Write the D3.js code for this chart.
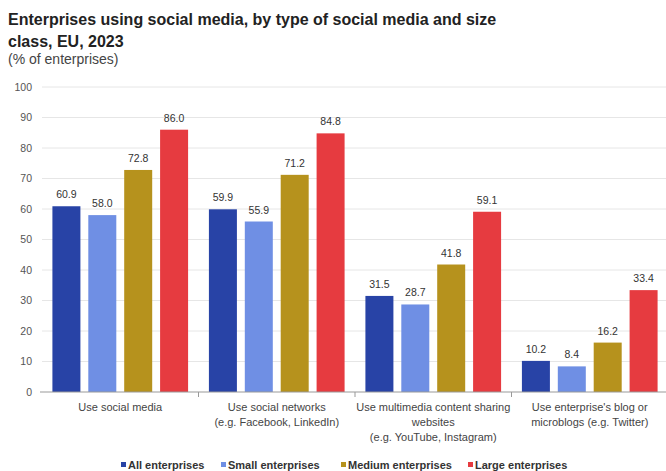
<!DOCTYPE html>
<html>
<head>
<meta charset="utf-8">
<script src="https://cdn.jsdelivr.net/npm/d3@7"></script>
<style>
  html, body { margin: 0; padding: 0; background: #fff; }
  svg { display: block; font-family: "Liberation Sans", Arial, sans-serif; }
</style>
</head>
<body>
<svg id="chart" width="666" height="471"></svg>
<script>
// Social media use by enterprise size class, EU, 2023 (% of enterprises)
const categories = [
  ["Use social media"],
  ["Use social networks", "(e.g. Facebook, LinkedIn)"],
  ["Use multimedia content sharing", "websites", "(e.g. YouTube, Instagram)"],
  ["Use enterprise's blog or", "microblogs (e.g. Twitter)"]
];
const seriesNames = ["All enterprises", "Small enterprises", "Medium enterprises", "Large enterprises"];
const allEnterprises    = [60.9, 59.9, 31.5, 10.2];
const smallEnterprises  = [58.0, 55.9, 28.7, 8.4];
const mediumEnterprises = [72.8, 71.2, 41.8, 16.2];
const largeEnterprises  = [86.0, 84.8, 59.1, 33.4];
const yTicks = [0, 10, 20, 30, 40, 50, 60, 70, 80, 90, 100];

const seriesValues = [allEnterprises, smallEnterprises, mediumEnterprises, largeEnterprises];
const colors = ["#2843a6", "#6f8fe4", "#b6921d", "#e63b40"];

const svg = d3.select("#chart");
const margin = { left: 42, right: -2, top: 87, bottom: 79 };
const W = 666, H = 471;

const x0 = d3.scaleBand()
  .domain(d3.range(categories.length))
  .range([margin.left, W - margin.right])
  .paddingInner(0)
  .paddingOuter(0);

const x1 = d3.scaleBand()
  .domain(d3.range(seriesNames.length))
  .range([0, x0.bandwidth()])
  .paddingInner(0.22)
  .paddingOuter(0.29);

const y = d3.scaleLinear().domain([0, 100]).range([H - margin.bottom, margin.top]);

// Title block
svg.append("text").attr("x", 8).attr("y", 25)
  .attr("font-size", 16).attr("font-weight", "bold").attr("fill", "#222")
  .text("Enterprises using social media, by type of social media and size");
svg.append("text").attr("x", 8).attr("y", 47)
  .attr("font-size", 16).attr("font-weight", "bold").attr("fill", "#222")
  .text("class, EU, 2023");
svg.append("text").attr("x", 8).attr("y", 64)
  .attr("font-size", 14).attr("fill", "#444")
  .text("(% of enterprises)");

// Gridlines
svg.append("g")
  .selectAll("line")
  .data(yTicks.filter(d => d > 0))
  .join("line")
  .attr("x1", margin.left).attr("x2", W)
  .attr("y1", d => y(d)).attr("y2", d => y(d))
  .attr("stroke", "#e6e6e6").attr("stroke-width", 1);

// Y axis labels
const yAxis = d3.axisLeft(y).tickValues(yTicks).tickSize(0).tickPadding(10);
const gy = svg.append("g").attr("transform", `translate(${margin.left},0)`).call(yAxis);
gy.select(".domain").remove();
gy.selectAll("text").attr("font-size", 10.5).attr("fill", "#555")
  .attr("font-family", "\"Liberation Sans\", Arial, sans-serif");

// Bars
const groups = svg.append("g")
  .selectAll("g")
  .data(categories.map((c, i) => i))
  .join("g")
  .attr("transform", i => `translate(${x0(i)},0)`);

groups.selectAll("rect")
  .data(i => seriesValues.map((s, k) => ({ k, v: s[i] })))
  .join("rect")
  .attr("x", d => x1(d.k))
  .attr("width", x1.bandwidth())
  .attr("y", d => y(d.v))
  .attr("height", d => y(0) - y(d.v))
  .attr("fill", d => colors[d.k]);

groups.selectAll("text.val")
  .data(i => seriesValues.map((s, k) => ({ k, v: s[i] })))
  .join("text")
  .attr("class", "val")
  .attr("x", d => x1(d.k) + x1.bandwidth() / 2)
  .attr("y", d => y(d.v) - 8)
  .attr("text-anchor", "middle")
  .attr("font-size", 10.5)
  .attr("fill", "#333")
  .text(d => d.v.toFixed(1));

// X axis baseline with separators between categories
const xAxis = d3.axisBottom(x0).tickSize(0).tickFormat(() => "");
const gx = svg.append("g").attr("transform", `translate(0,${y(0)})`).call(xAxis);
gx.select(".domain").attr("stroke", "#999").attr("d", `M${margin.left - 2},0H${W}`);
gx.selectAll(".tick").remove();
gx.selectAll("line.sep")
  .data(d3.range(1, categories.length))
  .join("line")
  .attr("class", "sep")
  .attr("x1", i => x0(i)).attr("x2", i => x0(i))
  .attr("y1", 0).attr("y2", 5)
  .attr("stroke", "#999");

// Category labels
const catLabels = svg.append("g")
  .selectAll("text")
  .data(categories.map((c, i) => ({ c, i })))
  .join("text")
  .attr("x", d => x0(d.i) + x0.bandwidth() / 2)
  .attr("y", y(0) + 19)
  .attr("text-anchor", "middle")
  .attr("font-size", 11)
  .attr("fill", "#444");
catLabels.selectAll("tspan")
  .data(d => d.c.map((line, j) => ({ line, j, x: x0(d.i) + x0.bandwidth() / 2 })))
  .join("tspan")
  .attr("x", d => d.x)
  .attr("dy", d => d.j === 0 ? 0 : 15)
  .text(d => d.line);

// Legend
const legendX = [121, 221, 341, 468];
const legend = svg.append("g")
  .selectAll("g")
  .data(seriesNames.map((n, k) => ({ n, k })))
  .join("g")
  .attr("transform", d => `translate(${legendX[d.k]},465)`);
legend.append("rect")
  .attr("x", 0).attr("y", -3).attr("width", 5).attr("height", 5)
  .attr("fill", d => colors[d.k]);
legend.append("text")
  .attr("x", 7).attr("y", 3.5)
  .attr("font-size", 11).attr("font-weight", "bold").attr("fill", "#333")
  .text(d => d.n);
</script>
</body>
</html>
